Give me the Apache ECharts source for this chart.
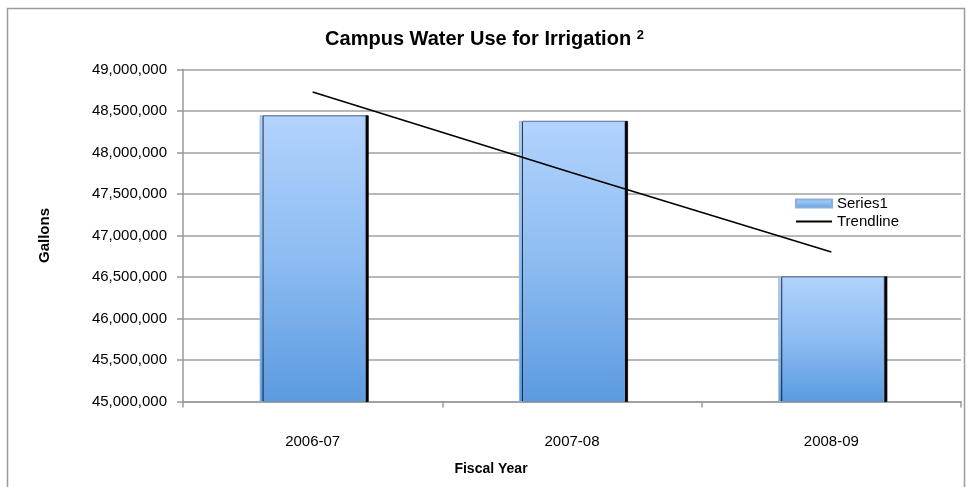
<!DOCTYPE html>
<html>
<head>
<meta charset="utf-8">
<script src="https://cdn.jsdelivr.net/npm/echarts@6/dist/echarts.min.js"></script>
<style>
html,body{margin:0;padding:0;background:#fff;}
#c{width:969px;height:487px;}
</style>
</head>
<body>
<div id="c"></div>
<script>
var categories = ['2006-07', '2007-08', '2008-09'];
var series1 = [48448000, 48380000, 46508000];
var trendline = [48730000, 47755000, 46800000];
var yMin = 45000000, yMax = 49000000, yStep = 500000;

var chart = echarts.init(document.getElementById('c'));
var font = 'Liberation Sans, Arial, sans-serif';
var barGrad = new echarts.graphic.LinearGradient(0, 0, 0, 1, [
  {offset: 0, color: '#b2d3fd'},
  {offset: 0.5, color: '#8dbcf2'},
  {offset: 1, color: '#5b9be0'}
]);
chart.setOption({
  animation: false,
  backgroundColor: '#fff',
  textStyle: {fontFamily: font},
  title: {
    text: 'Campus Water Use for Irrigation {s|2}',
    left: 'center',
    top: 24,
    textStyle: {fontSize: 20, fontWeight: 'bold', color: '#000', fontFamily: font,
      rich: {s: {fontSize: 13, fontWeight: 'bold', verticalAlign: 'top', padding: [0,0,7,0], fontFamily: font}}}
  },
  legend: {
    orient: 'vertical',
    left: 795,
    top: 196,
    padding: 0,
    itemWidth: 36,
    itemHeight: 8,
    itemGap: 3,
    textStyle: {fontSize: 15, color: '#000', fontFamily: font},
    data: [{name: 'Series1', icon: 'rect'}, {name: 'Trendline', itemStyle: {opacity: 0}}]
  },
  grid: {left: 183, right: 8, top: 69.5, bottom: 85.5},
  xAxis: {
    type: 'category',
    data: categories,
    boundaryGap: true,
    axisLine: {lineStyle: {color: '#999', width: 1.5}},
    axisTick: {show: true, length: 6, lineStyle: {color: '#999', width: 1.5}},
    axisLabel: {fontSize: 15, color: '#000', margin: 33, fontFamily: font},
    name: 'Fiscal Year',
    nameLocation: 'middle',
    nameGap: 61,
    nameTextStyle: {fontSize: 14, fontWeight: 'bold', color: '#000', fontFamily: font, padding: [0, 162, 0, 0]}
  },
  yAxis: {
    type: 'value',
    min: yMin, max: yMax, interval: yStep,
    axisLine: {show: true, lineStyle: {color: '#999', width: 1.5}},
    axisTick: {show: true, length: 6, lineStyle: {color: '#999', width: 1.5}},
    splitLine: {lineStyle: {color: '#a0a0a0', width: 1.5}},
    axisLabel: {fontSize: 15, color: '#000', margin: 16, fontFamily: font,
      formatter: function (v) { return v.toLocaleString('en-US'); }},
    name: 'Gallons',
    nameLocation: 'middle',
    nameGap: 131,
    nameTextStyle: {fontSize: 15, fontWeight: 'bold', color: '#000', fontFamily: font}
  },
  graphic: [{
    type: 'polyline',
    shape: {points: [[7.5, 500], [7.5, 8.5], [964.5, 8.5], [964.5, 500]]},
    style: {stroke: '#9a9a9a', lineWidth: 1.5, fill: null},
    silent: true
  }],
  series: [{
    name: 'Series1',
    type: 'bar',
    data: series1,
    barWidth: 106,
    itemStyle: {
      color: barGrad,
      borderColor: '#8ab0dc',
      borderWidth: 0.8,
      shadowColor: '#000',
      shadowOffsetX: 3,
      shadowOffsetY: 0,
      shadowBlur: 0
    }
  }, {
    name: 'Trendline',
    type: 'line',
    data: trendline,
    symbol: 'none',
    lineStyle: {color: '#000', width: 1.6},
    itemStyle: {color: '#000'},
    z: 5
  }]
});
</script>
</body>
</html>
